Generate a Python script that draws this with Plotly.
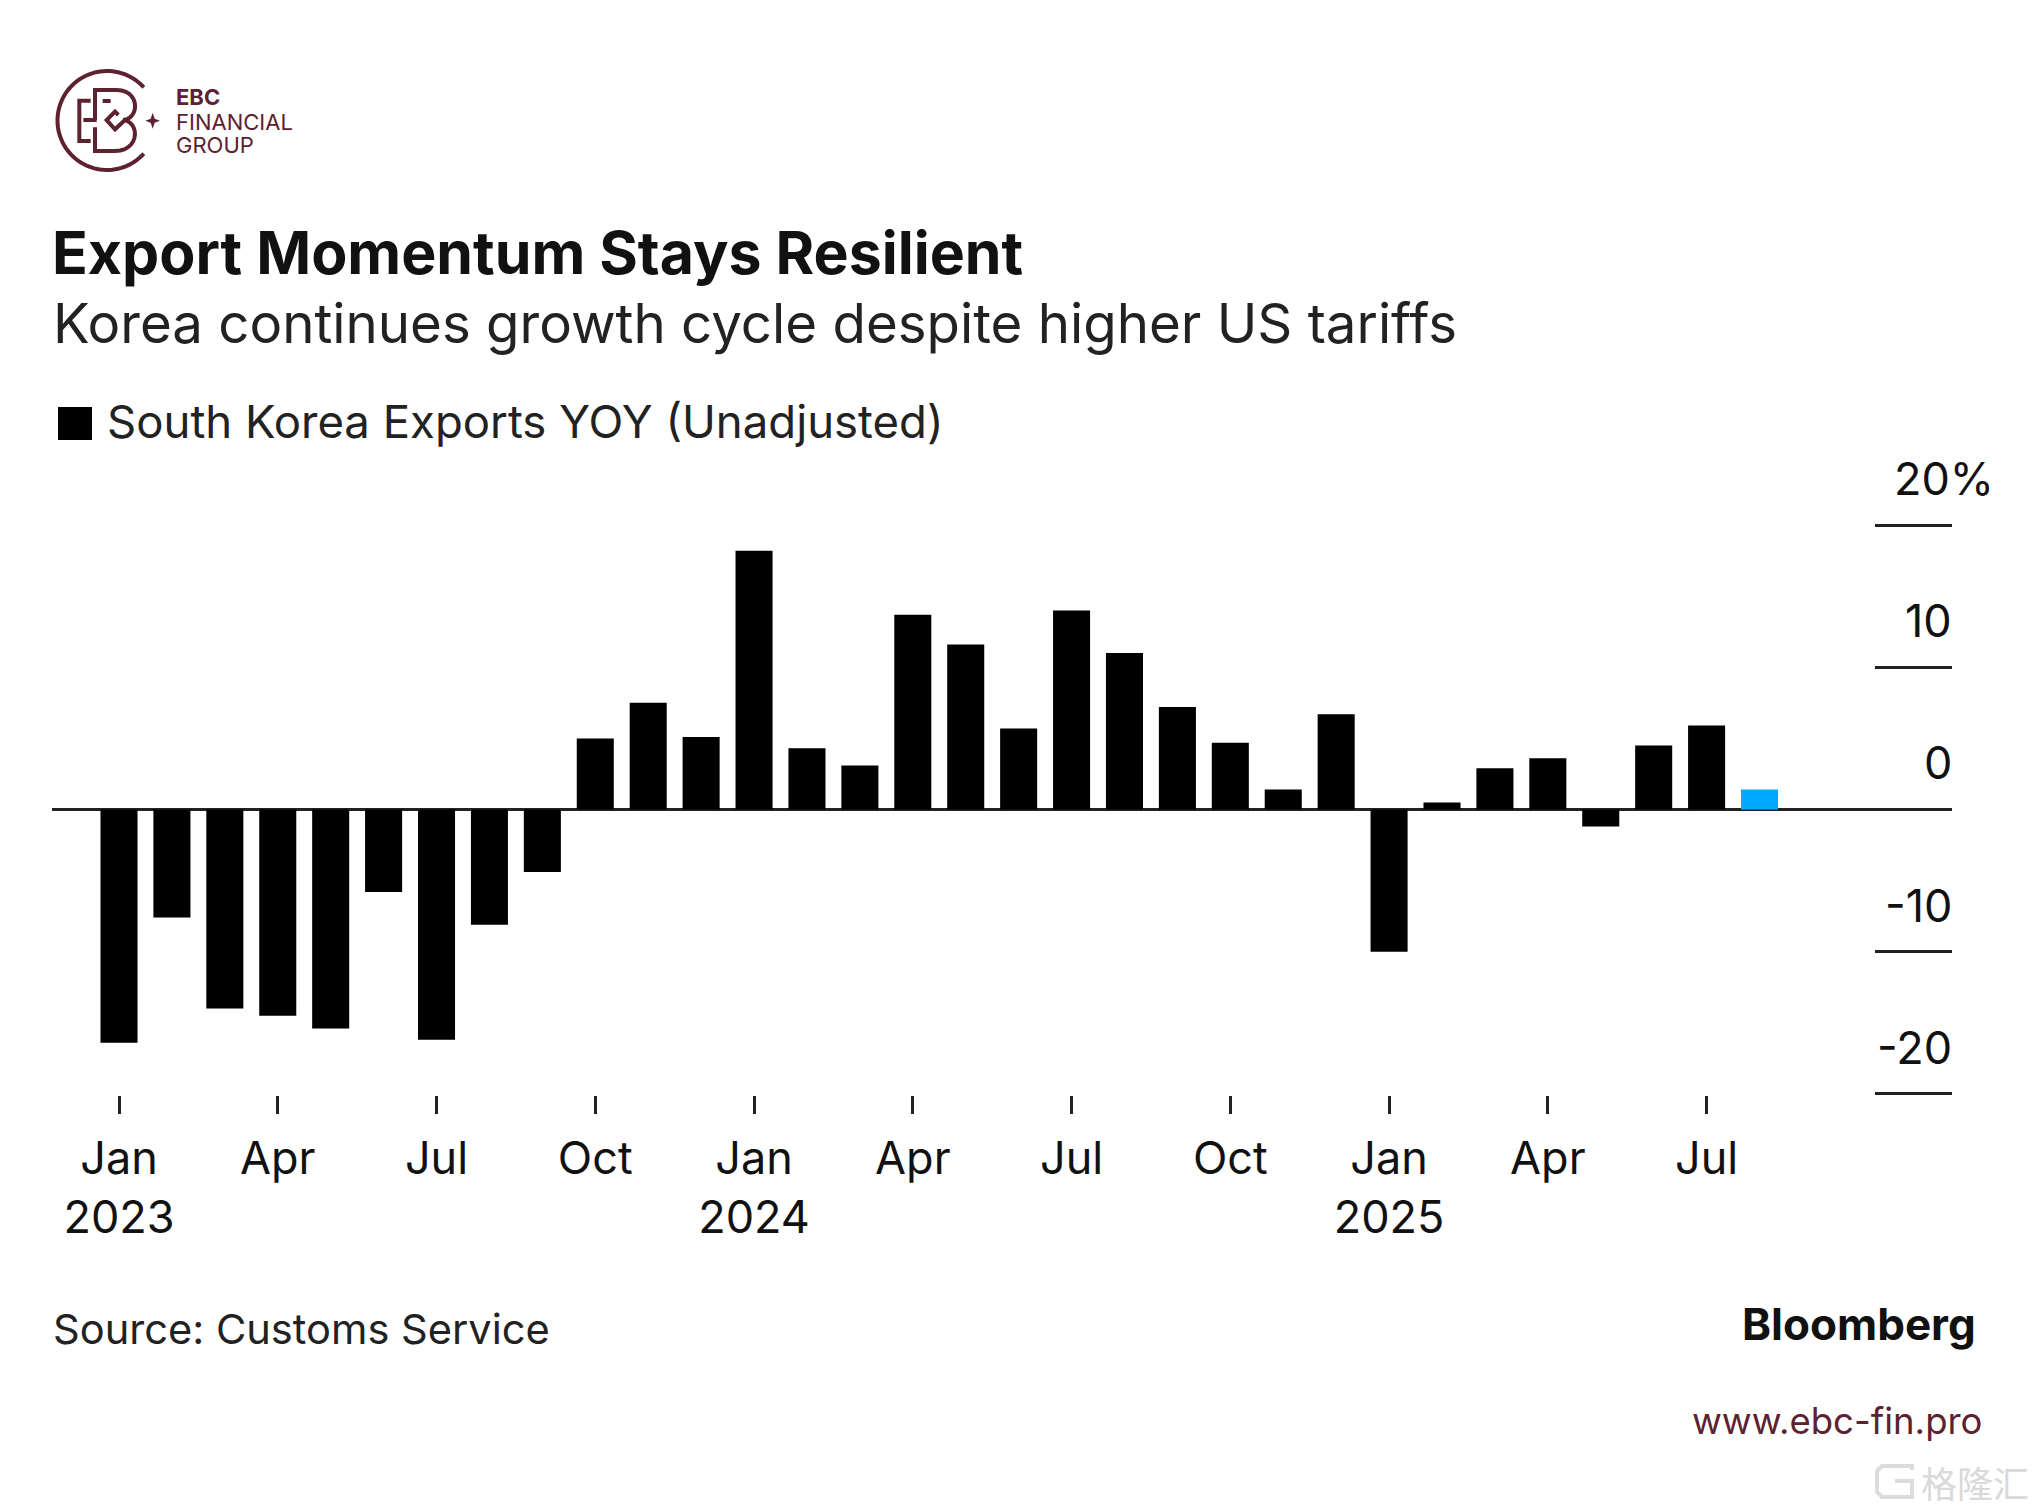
import numpy as np
import plotly.graph_objects as go

W, H = 2034, 1512
months = [f"{y}-{m:02d}" for y in (2023, 2024, 2025) for m in range(1, 13)][:32]
exports_yoy = [-16.4, -7.6, -14.0, -14.5, -15.4, -5.8, -16.2, -8.1, -4.4, 5.0, 7.5, 5.1,
               18.2, 4.3, 3.1, 13.7, 11.6, 5.7, 14.0, 11.0, 7.2, 4.7, 1.4, 6.7,
               -10.0, 0.5, 2.9, 3.6, -1.2, 4.5, 5.9, 1.4]
x_tick_vals = ["2023-01", "2023-04", "2023-07", "2023-10", "2024-01", "2024-04", "2024-07",
               "2024-10", "2025-01", "2025-04", "2025-07"]
x_tick_text = ["Jan<br>2023", "Apr", "Jul", "Oct", "Jan<br>2024", "Apr", "Jul", "Oct",
               "Jan<br>2025", "Apr", "Jul"]
y_ticks = [20, 10, 0, -10, -20]
y_tick_text = ["20%", "10", "0", "-10", "-20"]
series_name = "South Korea Exports YOY (Unadjusted)"

BLACK = "#000000"
BLUE = "#00a8ff"
INK = "#111111"
WINE = "#5c2230"
FONT = "Inter"
LOGO_FONT = "Inter"

PAD = 0.1                 # y-range padding so the outer inside ticks are drawn
UNIT = 14.22              # pixels per percentage point
ZERO_Y = 809.5
PX0, PX1 = 52, 1952
PY0, PY1 = ZERO_Y - (20 + PAD) * UNIT, ZERO_Y + (20 + PAD) * UNIT
FIRST_X, STEP = 119, 52.92

px = lambda x: x / W
py = lambda y: 1 - y / H


def path(points, close=False):
    s = "M" + " L".join(f"{px(x):.5f},{py(y):.5f}" for x, y in points)
    return s + (" Z" if close else "")


def logo(pts):
    return [(x / 3, 40 + y / 3) for x, y in pts]


def bez(p0, p1, p2, p3, n=14):
    t = np.linspace(0, 1, n)[:, None]
    p0, p1, p2, p3 = map(np.array, (p0, p1, p2, p3))
    return [tuple(v) for v in (1-t)**3*p0 + 3*(1-t)**2*t*p1 + 3*(1-t)*t**2*p2 + t**3*p3]


shapes = []
def stroke(points, color=WINE, width=4):
    shapes.append(dict(type="path", xref="paper", yref="paper", path=path(points),
                       line=dict(color=color, width=width), layer="above"))


# logo ring
ang = np.radians(np.linspace(42, 318, 80))
stroke([(107 + 49.5 * np.cos(a), 120.5 - 49.5 * np.sin(a)) for a in ang])
# logo letters
stroke(logo([(272, 182), (238, 182), (238, 303), (272, 303)]))
stroke(logo([(250, 240), (290, 240)]))
stroke(logo([(285, 240), (285, 150), (350, 150)]) + logo(bez((350, 150), (420, 150), (420, 235), (370, 240))))
stroke(logo([(285, 262), (285, 333), (345, 333)]) + logo(bez((345, 333), (420, 333), (420, 245), (370, 240))))
stroke(logo([(308, 183), (332, 183)]))
stroke(logo([(355, 225), (345, 215), (320, 240), (345, 268), (375, 240)]))
shapes.append(dict(type="path", xref="paper", yref="paper", layer="above",
                   fillcolor=WINE, line=dict(width=0),
                   path=path(logo([(458, 218), (464, 236), (480, 242), (464, 248),
                                   (458, 266), (452, 248), (436, 242), (452, 236)]), close=True)))
# legend swatch
shapes.append(dict(type="rect", xref="paper", yref="paper", x0=px(58), x1=px(92), y0=py(440), y1=py(407),
                   fillcolor=BLACK, line=dict(width=0)))
# watermark glyph
stroke([(1912, 1470), (1912, 1466), (1882, 1466), (1877, 1471), (1877, 1492), (1882, 1497), (1912, 1497),
        (1912, 1481), (1895, 1481)], color="#dcdcdc", width=4)

annotations = []
def text(x, y, s, size, color=INK, font=FONT, xanchor="left", yanchor="middle", **kw):
    annotations.append(dict(xref="paper", yref="paper", x=px(x), y=py(y), text=s, showarrow=False,
                            xanchor=xanchor, yanchor=yanchor, align="left",
                            font=dict(size=size, color=color, family=font), borderpad=0, **kw))


text(175, 97, "<b>EBC</b>", 22, WINE, LOGO_FONT)
text(175, 122, "FINANCIAL", 22, WINE, LOGO_FONT)
text(175, 145, "GROUP", 22, WINE, LOGO_FONT)
text(52, 323, "Korea continues growth cycle despite higher US tariffs", 54.6, "#222222")
text(106, 421, series_name, 45.5, "#222222")
text(52, 1329, "Source: Customs Service", 41.6, "#222222")
text(1977, 1324, "<b>Bloomberg</b>", 44, "#111111", xanchor="right")
text(1984, 1421, "www.ebc-fin.pro", 36.5, WINE, LOGO_FONT, xanchor="right")
text(2030, 1482, "格隆汇", 36, "#d9d9d9", "Noto Sans CJK SC", xanchor="right")

for v, t in zip(y_ticks, y_tick_text):
    annotations.append(dict(xref="paper", yref="y", x=px(1995 if v == 20 else 1953), y=v, yshift=18,
                            text=t, showarrow=False, xanchor="right", yanchor="bottom",
                            font=dict(size=45, color=INK, family=FONT), borderpad=0))

colors = [BLACK] * (len(months) - 1) + [BLUE]

fig = go.Figure(go.Bar(x=months, y=exports_yoy, name=series_name, marker=dict(color=colors, line=dict(width=0)),
                       showlegend=False))
fig.update_layout(
    width=W, height=H, autosize=False,
    margin=dict(l=0, r=0, t=0, b=0),
    paper_bgcolor="white", plot_bgcolor="white",
    bargap=0.3,
    showlegend=False,
    title=dict(text="<b>Export Momentum Stays Resilient</b>", x=px(52), y=py(253), xref="paper", yref="paper",
               xanchor="left", yanchor="middle", pad=dict(l=0, r=0, t=0, b=0),
               font=dict(size=59, color="#111111", family=FONT)),
    font=dict(family=FONT, color=INK),
    xaxis=dict(type="category", categoryorder="array", categoryarray=months,
               domain=[px(PX0), px(PX1)],
               range=[-(FIRST_X - PX0) / STEP, (PX1 - FIRST_X) / STEP],
               tickmode="array", tickvals=x_tick_vals, ticktext=x_tick_text,
               ticks="outside", ticklen=18, tickwidth=3, tickcolor="#222222",
               tickfont=dict(size=45, color=INK, family=FONT),
               showgrid=False, zeroline=False, showline=False, ticklabelstandoff=6),
    yaxis=dict(domain=[py(PY1), py(PY0)], range=[-20 - PAD, 20 + PAD], side="right",
               tickmode="array", tickvals=y_ticks, ticks="inside", ticklen=77, tickwidth=2.5,
               tickcolor="#222222", showticklabels=False, showgrid=False, showline=False,
               zeroline=True, zerolinecolor="#222222", zerolinewidth=2.5),
    shapes=shapes, annotations=annotations,
)
fig.write_html("out.html", config=dict(displayModeBar=False),
               post_script="document.body.style.margin='0';")
